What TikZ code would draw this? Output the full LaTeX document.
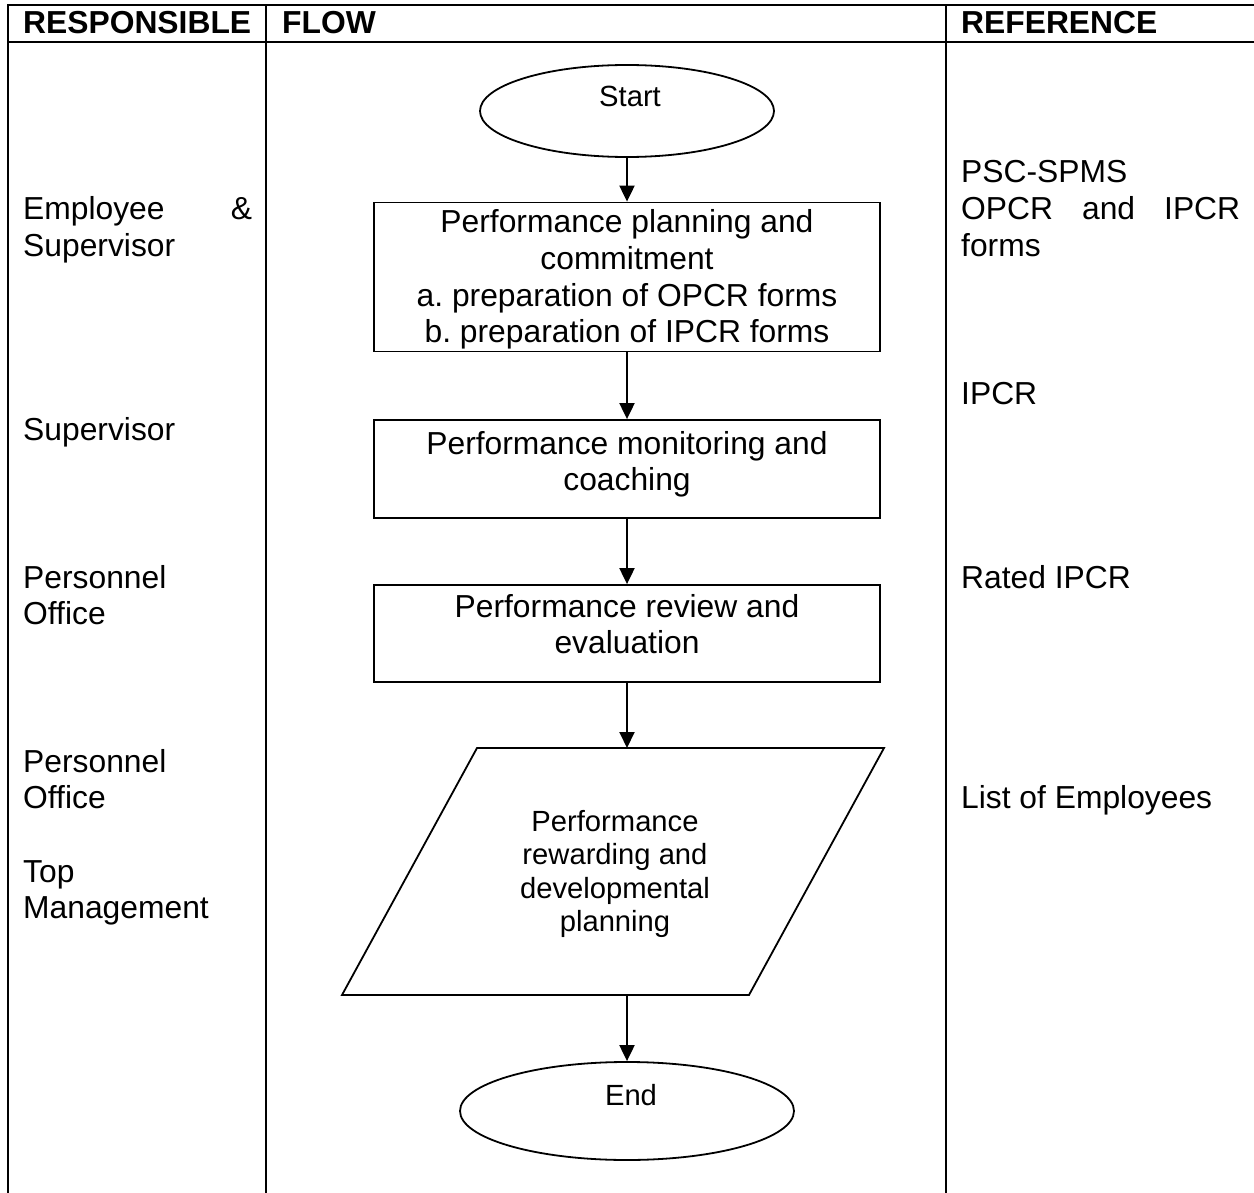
\documentclass[tikz,border=0pt]{standalone}
\usepackage{fontspec}
\setmainfont{Liberation Sans}
\usetikzlibrary{arrows.meta,shapes.geometric}
\newcommand\txtA{\fontsize{31.8}{36.6}\selectfont}
\newcommand\txtB{\fontsize{29.2}{33.6}\selectfont}
\frenchspacing
\begin{document}
\frenchspacing
\begin{tikzpicture}[x=1pt,y=-1pt,
  grid/.style={line width=2.7pt, line join=miter},
  shp/.style={draw, line width=1.8pt},
  oval/.style={shp, ellipse, inner sep=0pt},
  procbox/.style={shp, rectangle, inner sep=0pt},
  boxtxt/.style={font=\txtA, inner sep=0pt, align=center, anchor=north, yshift=-8pt},
  lbl/.style={font=\txtA, inner sep=0pt, anchor=base west},
  hdr/.style={font=\txtA\bfseries, inner sep=0pt, anchor=base west},
  flowtxt/.style={font=\txtB, inner sep=0pt},
  arr/.style={line width=2pt, -{Triangle[width=15pt,length=16pt]}}
]
\useasboundingbox (0,0) rectangle (1254,1193);

% table grid
\draw[grid] (1254,5) -- (8,5) -- (8,1193);
\draw[grid] (8,42) -- (1254,42);
\draw[grid] (266,5) -- (266,1193);
\draw[grid] (946,5) -- (946,1193);

% headers
\node[hdr] (hResp) at (23,34) {RESPONSIBLE};
\node[hdr] (hFlow) at (282,34) {FLOW};
\node[hdr] (hRef) at (961,34) {REFERENCE};

% responsible column
\node[lbl] (r1a) at (23,220) {\makebox[229pt][s]{Employee \&}};
\node[lbl] (r1b) at (23,256.6) {Supervisor};
\node[lbl] (r2) at (23,440) {Supervisor};
\node[lbl] (r3a) at (23,588) {Personnel};
\node[lbl] (r3b) at (23,624.6) {Office};
\node[lbl] (r4a) at (23,772) {Personnel};
\node[lbl] (r4b) at (23,808.6) {Office};
\node[lbl] (r5a) at (23,882) {Top};
\node[lbl] (r5b) at (23,918.6) {Management};

% reference column
\node[lbl] (f1a) at (961,183) {PSC-SPMS};
\node[lbl] (f1b) at (961,219.6) {\makebox[279pt][s]{OPCR and IPCR}};
\node[lbl] (f1c) at (961,256.2) {forms};
\node[lbl] (f2) at (961,404) {IPCR};
\node[lbl] (f3) at (961,588) {Rated IPCR};
\node[lbl] (f4) at (961,808) {List of Employees};

% flow
\node[oval, minimum width=294pt, minimum height=92pt] (startov) at (627,111) {};
\node[flowtxt, anchor=base] (startlbl) at (630,107) {Start};

\node[procbox, minimum width=506pt, minimum height=149pt] (box1) at (627,277) {};
\node[boxtxt] (box1txt) at (box1.north)
  {Performance planning and\\commitment\\a. preparation of OPCR forms\\b. preparation of IPCR forms};
\node[procbox, minimum width=506pt, minimum height=98pt] (box2) at (627,469) {};
\node[boxtxt, yshift=-4pt] (box2txt) at (box2.north) {Performance monitoring and\\coaching};
\node[procbox, minimum width=506pt, minimum height=97pt] (box3) at (627,633.5) {};
\node[boxtxt, yshift=-2pt] (box3txt) at (box3.north) {Performance review and\\evaluation};

\coordinate (pBL) at (342,995);
\coordinate (pTL) at (477,748);
\coordinate (pTR) at (884,748);
\coordinate (pBR) at (749,995);
\draw[shp, line join=miter] (pBL) -- (pTL) -- (pTR) -- (pBR) -- cycle;
\coordinate (pIn) at (627,748);
\coordinate (pOut) at (627,995);
\node[flowtxt, align=center] (rewardtxt) at (615,874)
  {Performance\\rewarding and\\developmental\\planning};

\node[oval, minimum width=334pt, minimum height=98pt] (stopov) at (627,1111) {};
\node[flowtxt, anchor=base] (stoplbl) at (631,1105) {End};

% connectors
\draw[arr] (startov.south) -- (box1.north);
\draw[arr] (box1.south) -- (box2.north);
\draw[arr] (box2.south) -- (box3.north);
\draw[arr] (box3.south) -- (pIn);
\draw[arr] (pOut) -- (stopov.north);
\end{tikzpicture}
\end{document}
